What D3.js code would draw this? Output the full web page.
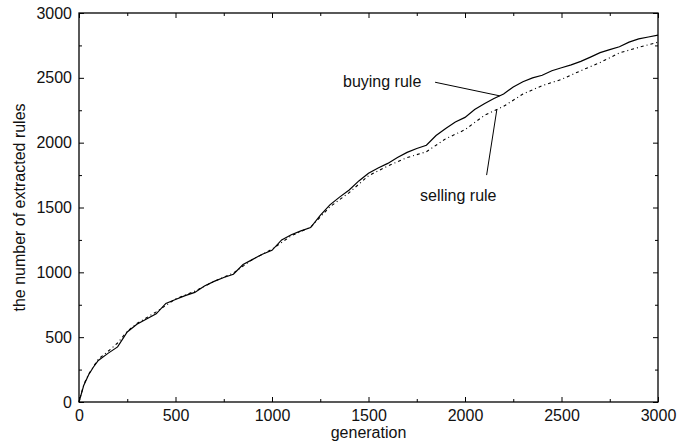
<!DOCTYPE html>
<html>
<head>
<meta charset="utf-8">
<script src="https://cdn.jsdelivr.net/npm/d3@7"></script>
<style>
  body { margin: 0; background: #fff; }
  svg { font-family: "Liberation Sans", Arial, sans-serif; }
</style>
</head>
<body>
<div id="chart"></div>
<script>
// generations sampled for both series
var buyGen = [0, 25, 50, 75, 100, 150, 200, 250, 300, 350, 400, 450, 500, 550, 600, 650, 700, 750, 800,
              850, 900, 950, 1000, 1050, 1100, 1150, 1200, 1250, 1300, 1350, 1400, 1450, 1500, 1550, 1600,
              1650, 1700, 1750, 1800, 1850, 1900, 1950, 2000, 2050, 2100, 2150, 2200, 2250, 2300, 2350,
              2400, 2450, 2500, 2550, 2600, 2650, 2700, 2750, 2800, 2850, 2900, 2950, 3000];
var buyRules = [0, 130, 210, 270, 320, 375, 425, 540, 600, 640, 680, 760, 790, 820, 845, 895, 930, 960, 985,
                1060, 1100, 1140, 1170, 1250, 1290, 1320, 1345, 1440, 1520, 1580, 1635, 1705, 1764, 1805, 1840,
                1885, 1925, 1955, 1980, 2055, 2110, 2160, 2195, 2255, 2300, 2340, 2375, 2430, 2470, 2500,
                2520, 2555, 2578, 2600, 2627, 2660, 2694, 2718, 2740, 2775, 2800, 2815, 2830];

var sellGen = [0, 25, 50, 100, 150, 200, 250, 300, 350, 400, 500, 600, 700, 800, 900, 1000, 1100, 1200,
               1300, 1400, 1500, 1600, 1700, 1800, 1900, 2000, 2100, 2200, 2300, 2400, 2500, 2600, 2700,
               2800, 2900, 3000];
var sellRules = [0, 135, 215, 330, 390, 455, 545, 605, 650, 695, 795, 855, 930, 995, 1100, 1178, 1282, 1348,
                 1505, 1615, 1745, 1820, 1885, 1930, 2030, 2100, 2210, 2280, 2375, 2440, 2488, 2555, 2618,
                 2692, 2735, 2775];

var majorTicks = [0, 500, 1000, 1500, 2000, 2500, 3000];
var minorTicks = [250, 750, 1250, 1750, 2250, 2750];

var margin = {top: 13, right: 36, bottom: 43, left: 79};
var width = 694 - margin.left - margin.right;
var height = 445 - margin.top - margin.bottom;

var svg = d3.select('#chart').append('svg')
            .attr('width', 694)
            .attr('height', 445);

var g = svg.append('g')
           .attr('transform', 'translate(' + margin.left + ',' + margin.top + ')');

var x = d3.scaleLinear().domain([0, 3000]).range([0, width]);
var y = d3.scaleLinear().domain([0, 3000]).range([height, 0]);

function styleAxis(sel) {
    sel.select('.domain').remove();
    sel.selectAll('line').attr('stroke', '#000').attr('stroke-width', 1);
    sel.selectAll('text').attr('fill', '#111').style('font-size', '16px');
}

// major ticks with labels, ticks pointing inward
g.append('g').attr('transform', 'translate(0,' + height + ')')
 .call(d3.axisBottom(x).tickValues(majorTicks).tickSize(-5).tickPadding(8).tickFormat(d3.format('d')))
 .call(styleAxis);
g.append('g')
 .call(d3.axisLeft(y).tickValues(majorTicks).tickSize(-5).tickPadding(7).tickFormat(d3.format('d')))
 .call(styleAxis);
g.append('g')
 .call(d3.axisTop(x).tickValues(majorTicks).tickSize(-5).tickFormat(''))
 .call(styleAxis);
g.append('g').attr('transform', 'translate(' + width + ',0)')
 .call(d3.axisRight(y).tickValues(majorTicks).tickSize(-5).tickFormat(''))
 .call(styleAxis);

// minor ticks
g.append('g').attr('transform', 'translate(0,' + height + ')')
 .call(d3.axisBottom(x).tickValues(minorTicks).tickSize(-3).tickFormat(''))
 .call(styleAxis);
g.append('g')
 .call(d3.axisLeft(y).tickValues(minorTicks).tickSize(-3).tickFormat(''))
 .call(styleAxis);
g.append('g')
 .call(d3.axisTop(x).tickValues(minorTicks).tickSize(-3).tickFormat(''))
 .call(styleAxis);
g.append('g').attr('transform', 'translate(' + width + ',0)')
 .call(d3.axisRight(y).tickValues(minorTicks).tickSize(-3).tickFormat(''))
 .call(styleAxis);

g.append('rect')
 .attr('width', width)
 .attr('height', height)
 .attr('fill', 'none')
 .attr('stroke', '#000')
 .attr('stroke-width', 1.3);

var line = d3.line()
             .x(function (d) { return x(d[0]); })
             .y(function (d) { return y(d[1]); });

g.append('path')
 .datum(d3.zip(sellGen, sellRules))
 .attr('d', line)
 .attr('fill', 'none')
 .attr('stroke', '#000')
 .attr('stroke-width', 1.1)
 .attr('stroke-dasharray', '3,3,1,3');

g.append('path')
 .datum(d3.zip(buyGen, buyRules))
 .attr('d', line)
 .attr('fill', 'none')
 .attr('stroke', '#000')
 .attr('stroke-width', 1.2);

// annotations
function valueAt(gens, vals, gen) {
    return d3.scaleLinear().domain(gens).range(vals)(gen);
}

g.append('text')
 .attr('x', x(1368)).attr('y', y(2430))
 .style('font-size', '16px').attr('fill', '#111')
 .text('buying rule');
g.append('line')
 .attr('x1', x(1845)).attr('y1', y(2466))
 .attr('x2', x(2180)).attr('y2', y(valueAt(buyGen, buyRules, 2180)))
 .attr('stroke', '#000').attr('stroke-width', 1);

g.append('text')
 .attr('x', x(1767)).attr('y', y(1550))
 .style('font-size', '16px').attr('fill', '#111')
 .text('selling rule');
g.append('line')
 .attr('x1', x(2112)).attr('y1', y(1750))
 .attr('x2', x(2165)).attr('y2', y(valueAt(sellGen, sellRules, 2165)))
 .attr('stroke', '#000').attr('stroke-width', 1);

// axis titles
svg.append('text')
   .attr('x', margin.left + width / 2)
   .attr('y', 438)
   .attr('text-anchor', 'middle')
   .style('font-size', '16px').attr('fill', '#111')
   .text('generation');

svg.append('text')
   .attr('transform', 'translate(25,' + (margin.top + height / 2) + ') rotate(-90)')
   .attr('text-anchor', 'middle')
   .style('font-size', '16px').attr('fill', '#111')
   .text('the number of extracted rules');
</script>
</body>
</html>
